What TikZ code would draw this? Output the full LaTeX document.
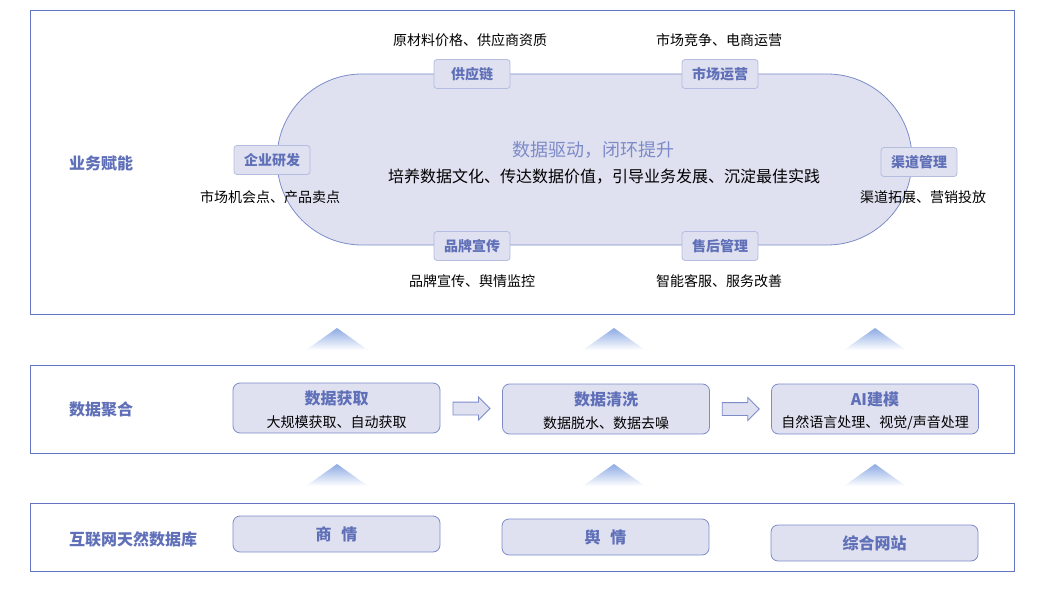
\documentclass[tikz,border=0pt]{standalone}
\usepackage{fontspec}
\setmainfont{Noto Sans CJK SC}
\usetikzlibrary{arrows.meta,positioning,shapes.arrows,shapes.misc,calc}
\definecolor{frame}{RGB}{98,117,190}
\definecolor{pale}{RGB}{223,225,240}
\definecolor{rim}{RGB}{125,140,201}
\definecolor{softrim}{RGB}{180,188,224}
\definecolor{title}{RGB}{96,112,184}
\definecolor{drive}{RGB}{125,138,200}
\definecolor{glow}{RGB}{140,170,228}
\tikzset{
  layer/.style={draw=frame,thick},
  side/.style={font=\fontsize{16}{19}\selectfont\bfseries,text=title},
  tag/.style={draw=softrim,fill=pale,rounded corners=3pt,thick,
    minimum width=76pt,minimum height=29pt,font=\fontsize{14}{16}\selectfont\bfseries,text=title},
  note/.style={font=\fontsize{14}{16}\selectfont,text=black},
  card/.style={draw=rim,fill=pale,rounded corners=7pt,thick,
    minimum width=207pt,minimum height=#1,align=center},
  card/.default=50pt,
  push/.style={single arrow,draw=rim,fill=pale,thick,minimum height=37pt,
    inner xsep=0pt,inner ysep=6pt,text height=0pt,text depth=0pt,
    single arrow head extend=5pt},
  % fading triangle
  pics/uptri/.style={code={
    \shade[top color=glow,bottom color=white] (0,0) -- (31,22) -- (-31,22) -- cycle;
  }},
}
\begin{document}
\begin{tikzpicture}[x=1pt,y=-1pt]
\useasboundingbox (0,0) rectangle (1046,596);
% layers
\draw[layer] (30,10) rectangle (1014,314);
\draw[layer] (30,365) rectangle (1014,453);
\draw[layer] (30,503) rectangle (1014,571);
\node[side] (yw) at (101,163) {业务赋能};
\node[side] (jh) at (101,409) {数据聚合};
\node[side] (hl) at (133,539) {互联网天然数据库};
% loop
\draw[rim,thick,fill=pale,rounded corners=85pt] (277,74) rectangle (912,245);
\node[font=\fontsize{18}{21}\selectfont,text=drive] (drv) at (593,150) {数据驱动，闭环提升};
\node[font=\fontsize{16}{19}\selectfont] (pyd) at (604,177) {培养数据文化、传达数据价值，引导业务发展、沉淀最佳实践};
\node[tag] (gyl) at (472,74) {供应链};
\node[tag] (scy) at (720,74) {市场运营};
\node[tag] (qyy) at (272,160) {企业研发};
\node[tag] (qdg) at (919,162) {渠道管理};
\node[tag] (ppx) at (472,246) {品牌宣传};
\node[tag] (shg) at (720,246) {售后管理};
\node[note] at (470,40) {原材料价格、供应商资质};
\node[note] at (719,40) {市场竞争、电商运营};
\node[note] at (270,197) {市场机会点、产品卖点};
\node[note] at (923,197) {渠道拓展、营销投放};
\node[note] at (472,281) {品牌宣传、舆情监控};
\node[note] at (719,281) {智能客服、服务改善};
% triangles
\foreach \x in {337,614,875} {
  \pic at (\x,328) {uptri};
  \pic at (\x,464) {uptri};
}
% aggregation
\node[card] (hq) at (336.5,408) {};
\node[card] (qx) at (606,409) {};
\node[card] (ai) at (875,409) {};
\foreach \n/\t/\s in {hq/数据获取/大规模获取、自动获取,qx/数据清洗/数据脱水、数据去噪,ai/AI建模/{自然语言处理、视觉/声音处理}} {
  \node[font=\fontsize{16}{19}\selectfont\bfseries,text=title] at ($(\n.center)+(0,-10)$) {\t};
  \node[note] at ($(\n.center)+(0,14)$) {\s};
}
\node[push,xshift=-3pt] (a1) at ($(hq.east)!0.5!(qx.west)$) {};
\node[push,xshift=-3pt] (a2) at ($(qx.east)!0.5!(ai.west)$) {};
% sources
\node[card=36pt,font=\fontsize{16}{19}\selectfont\bfseries,text=title] (sq) at (336.5,534) {商\hspace{0.6em}情};
\node[card=36pt,font=\fontsize{16}{19}\selectfont\bfseries,text=title] (yq) at (605.5,537) {舆\hspace{0.6em}情};
\node[card=36pt,font=\fontsize{16}{19}\selectfont\bfseries,text=title] (zw) at (874.5,543) {综合网站};
\end{tikzpicture}
\end{document}
